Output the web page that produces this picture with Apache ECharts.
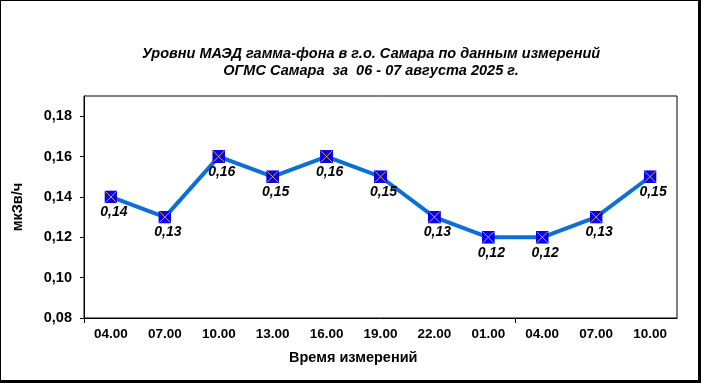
<!DOCTYPE html>
<html>
<head>
<meta charset="utf-8">
<script src="https://cdn.jsdelivr.net/npm/echarts@6/dist/echarts.min.js"></script>
<style>
html,body{margin:0;padding:0;background:#fff;}
#wrap{position:relative;width:701px;height:383px;}
#chart{position:absolute;left:0;top:0;width:701px;height:383px;}
#frame{position:absolute;left:0;top:0;width:701px;height:383px;box-sizing:border-box;border-left:1px solid #000;border-top:1px solid #000;border-right:3px solid #000;border-bottom:3px solid #000;pointer-events:none;}
</style>
</head>
<body>
<div id="wrap"><div id="chart"></div><div id="frame"></div></div>
<script>
const titleLines = ['Уровни МАЭД гамма-фона в г.о. Самара по данным измерений', 'ОГМС Самара  за  06 - 07 августа 2025 г.'];
const categories = ['04.00','07.00','10.00','13.00','16.00','19.00','22.00','01.00','04.00','07.00','10.00'];
const values = [0.14, 0.13, 0.16, 0.15, 0.16, 0.15, 0.13, 0.12, 0.12, 0.13, 0.15];
const yTicks = [0.08, 0.10, 0.12, 0.14, 0.16, 0.18];
const xTickBoundaries = [0, 8];
const yName = 'мкЗв/ч';
const xName = 'Время измерений';

const FONT = '"Liberation Sans", Arial, sans-serif';
const markerSvg = 'data:image/svg+xml;utf8,' + encodeURIComponent(
  '<svg xmlns="http://www.w3.org/2000/svg" width="13" height="13" viewBox="0 0 13 13">' +
  '<rect x="0" y="0" width="13" height="13" fill="#0000FF"/>' +
  '<path d="M1 1 L12 12 M12 1 L1 12" stroke="#E8A020" stroke-width="1" fill="none"/>' +
  '</svg>');

const chart = echarts.init(document.getElementById('chart'));
chart.setOption({
  animation: false,
  backgroundColor: '#fff',
  title: {
    text: titleLines.join('\n'),
    left: 366, top: 40, textAlign: 'center',
    textStyle: {fontFamily: FONT, fontSize: 14.5, fontWeight: 'bold', fontStyle: 'italic', color: '#000', lineHeight: 17}
  },
  graphic: [{
    type: 'text', left: 355 - 66, top: 350,
    style: {text: xName, fontFamily: FONT, fontSize: 14.5, fontWeight: 'bold', fill: '#000'}
  }],
  grid: {left: 84, right: 24, top: 96, bottom: 65, show: true, borderColor: '#000', borderWidth: 1, backgroundColor: '#fff'},
  xAxis: [{
    type: 'category', data: categories, boundaryGap: true,
    axisLine: {lineStyle: {color: '#000', width: 1}},
    axisTick: {show: false},
    axisLabel: {interval: 0, fontFamily: FONT, fontSize: 13.5, fontWeight: 'bold', color: '#000', margin: 9},
    splitLine: {show: false}
  }, {
    type: 'value', position: 'bottom', min: 0, max: categories.length,
    axisLine: {show: false},
    axisTick: {show: true, length: 5, customValues: xTickBoundaries, lineStyle: {color: '#000'}},
    axisLabel: {show: false},
    splitLine: {show: false}
  }],
  yAxis: {
    type: 'value', min: 0.08, max: 0.19,
    name: yName, nameLocation: 'middle', nameGap: 59, nameRotate: 90,
    nameTextStyle: {fontFamily: FONT, fontSize: 14.5, fontWeight: 'bold', color: '#000'},
    axisLine: {show: true, lineStyle: {color: '#000', width: 1}},
    axisTick: {show: true, length: 4, customValues: yTicks, lineStyle: {color: '#000'}},
    axisLabel: {customValues: yTicks, fontFamily: FONT, fontSize: 14.5, fontWeight: 'bold', color: '#000', margin: 12,
      formatter: v => v.toFixed(2).replace('.', ',')},
    splitLine: {show: false}
  },
  series: [{
    type: 'line', data: values, xAxisIndex: 0,
    lineStyle: {color: '#0A6FD6', width: 4},
    itemStyle: {color: '#0000FF'},
    symbol: 'image://' + markerSvg, symbolSize: 13, showAllSymbol: true,
    label: {show: true, position: 'bottom', distance: 2, offset: [3, 0],
      fontFamily: FONT, fontSize: 14, fontWeight: 'bold', fontStyle: 'italic', color: '#000',
      formatter: p => p.value.toFixed(2).replace('.', ',')}
  }]
});
</script>
</body>
</html>
